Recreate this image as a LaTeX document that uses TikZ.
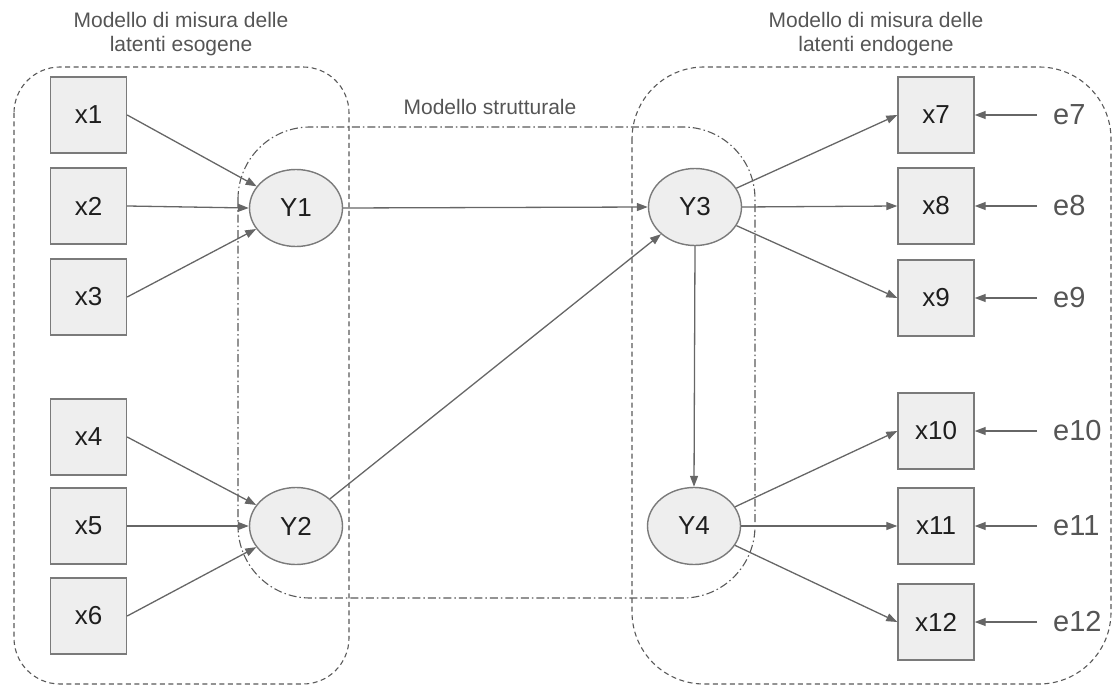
\documentclass[tikz,border=0pt]{standalone}
\usepackage{fontspec}
\setmainfont{Liberation Sans}
\usetikzlibrary{arrows.meta,shapes.geometric}
\definecolor{boxfill}{HTML}{EEEEEE}
\definecolor{boxline}{HTML}{7A7A7A}
\definecolor{wire}{HTML}{666666}
\definecolor{caption}{HTML}{555555}
\definecolor{ink}{HTML}{1E1E1E}
\begin{document}
\begin{tikzpicture}[x=1pt,y=-1pt,
  obs/.style={draw=boxline,line width=1.4pt,fill=boxfill,minimum width=76pt,minimum height=76pt,inner sep=0pt,text=ink,font=\fontsize{26}{30}\selectfont},
  lat/.style={draw=boxline,line width=1.4pt,fill=boxfill,ellipse,minimum width=93pt,minimum height=77pt,inner sep=0pt,text=ink,font=\fontsize{26}{30}\selectfont},
  err/.style={anchor=west,inner xsep=16pt,inner ysep=0pt,text=caption,font=\fontsize{29}{33}\selectfont},
  head/.style={align=center,inner sep=0pt,text=caption,font=\fontsize{21}{24}\selectfont},
  link/.style={draw=wire,line width=1.3pt,-{Triangle[length=11pt,width=8pt]}},
  group/.style={draw=black!65,line width=1.1pt,dash pattern=on 5pt off 3.5pt},
  structural/.style={draw=black!65,line width=1.1pt,dash pattern=on 8pt off 3pt on 1.5pt off 3pt}]
\useasboundingbox (0,0) rectangle (1113,687);

% grouping frames
\draw[group,rounded corners=46pt] (14,67) rectangle (349,684);
\draw[group,rounded corners=72pt] (632,67) rectangle (1111,684);
\draw[structural,rounded corners=72pt] (238,127) rectangle (755,598);

% captions
\node[head] (hexo) at (181,34.5) {Modello di misura delle\\latenti esogene};
\node[head] (hendo) at (876,34.5) {Modello di misura delle\\latenti endogene};
\node[head,anchor=base] (hstr) at (490,115) {Modello strutturale};

% observed indicators
\node[obs] (x1) at (88.5,115) {x1};
\node[obs] (x2) at (88.5,206) {x2};
\node[obs] (x3) at (88.5,297) {x3};
\node[obs] (x4) at (88.5,437) {x4};
\node[obs] (x5) at (88.5,526) {x5};
\node[obs] (x6) at (88.5,616) {x6};
\node[obs] (x7) at (936,115) {x7};
\node[obs] (x8) at (936,206) {x8};
\node[obs] (x9) at (936,298) {x9};
\node[obs] (x10) at (936,431) {x10};
\node[obs] (x11) at (936,526) {x11};
\node[obs] (x12) at (936,622) {x12};

% latent variables
\node[lat] (Y1) at (296,208) {Y1};
\node[lat] (Y2) at (296,526) {Y2};
\node[lat] (Y3) at (695,207) {Y3};
\node[lat] (Y4) at (694,526) {Y4};

% error terms
\node[err] (e7) at (1037,115) {e7};
\node[err] (e8) at (1037,206) {e8};
\node[err] (e9) at (1037,298) {e9};
\node[err] (e10) at (1037,431) {e10};
\node[err] (e11) at (1037,526) {e11};
\node[err] (e12) at (1037,622) {e12};

% exogenous measurement
\draw[link] (x1.east) -- (Y1);
\draw[link] (x2.east) -- (Y1.west);
\draw[link] (x3.east) -- (Y1);
\draw[link] (x4.east) -- (Y2);
\draw[link] (x5.east) -- (Y2.west);
\draw[link] (x6.east) -- (Y2);

% structural paths
\draw[link] (Y1.east) -- (Y3.west);
\draw[link] (Y2) -- (Y3);
\draw[link] (Y3.south) -- (Y4.north);

% endogenous measurement
\draw[link] (Y3) -- (x7.west);
\draw[link] (Y3.east) -- (x8.west);
\draw[link] (Y3) -- (x9.west);
\draw[link] (Y4) -- (x10.west);
\draw[link] (Y4.east) -- (x11.west);
\draw[link] (Y4) -- (x12.west);

% errors
\foreach \i in {7,...,12} \draw[link] (e\i.west) -- (x\i.east);
\end{tikzpicture}
\end{document}
